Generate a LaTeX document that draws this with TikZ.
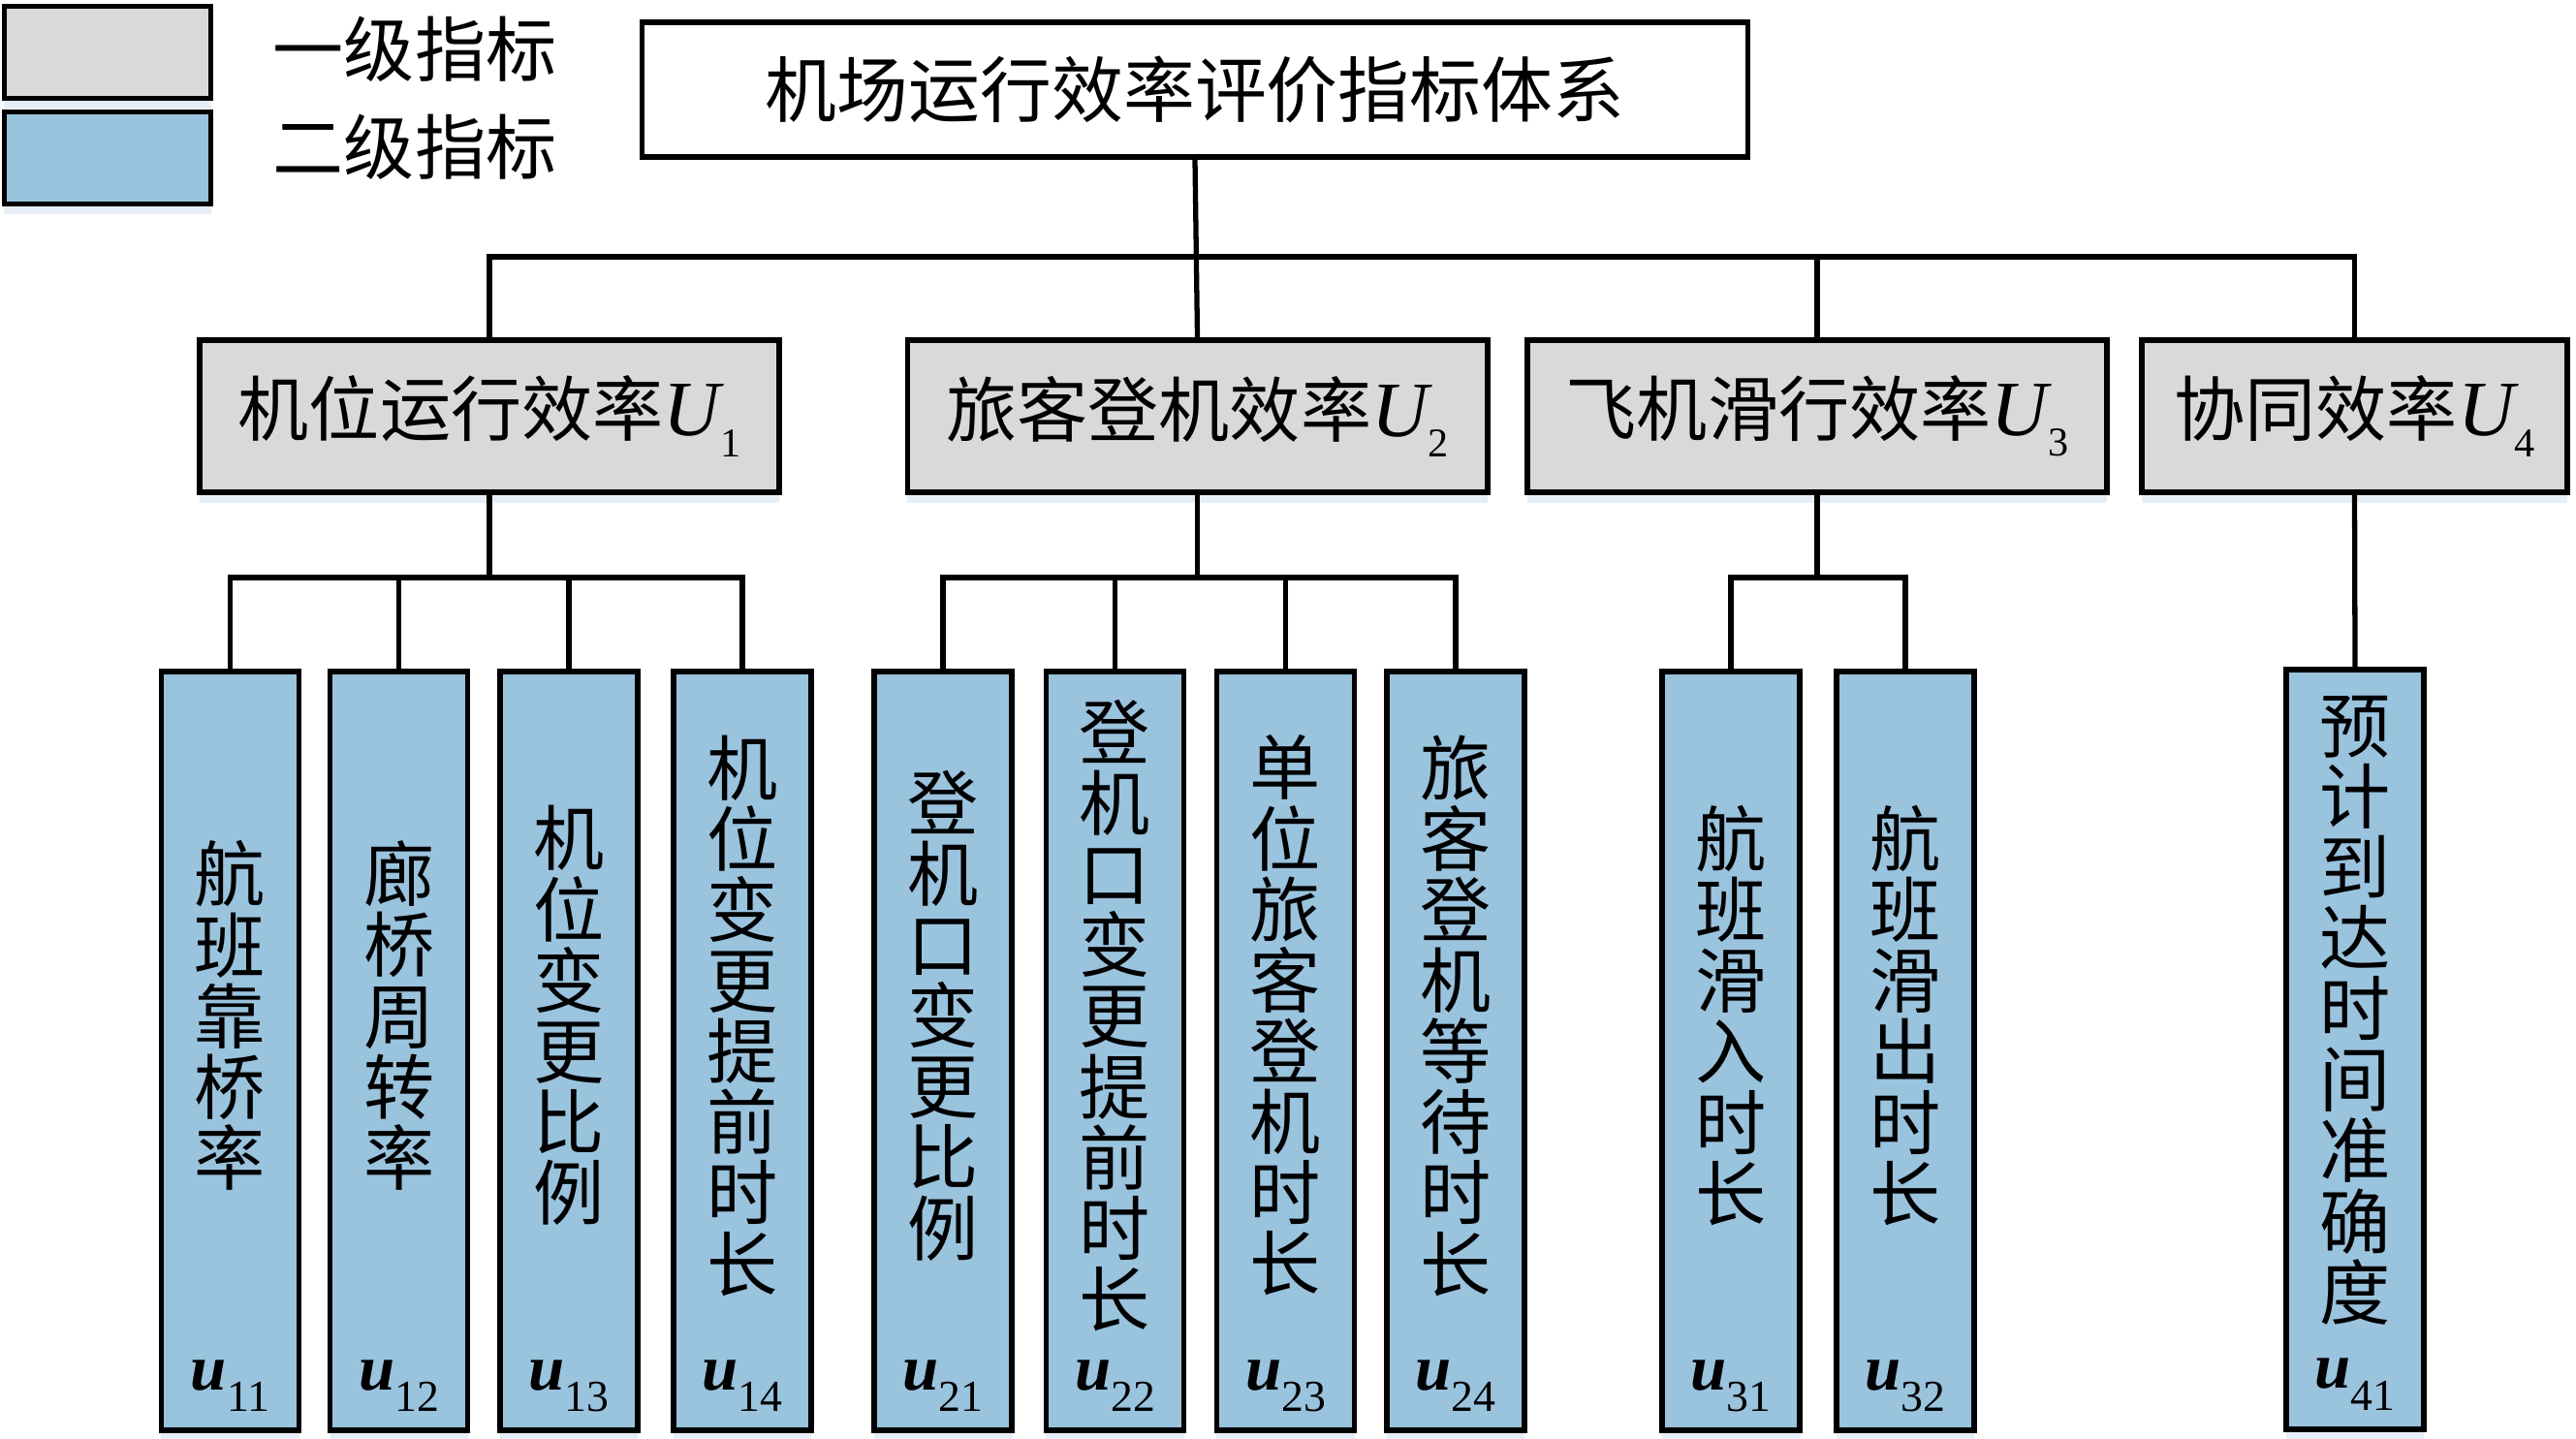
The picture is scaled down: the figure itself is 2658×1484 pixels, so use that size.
\documentclass[tikz,border=0pt]{standalone}
\usepackage{fontspec}
\setmainfont{Liberation Serif}
\newfontfamily\cjk{Noto Sans CJK SC}
\usetikzlibrary{shadows}
\definecolor{lvone}{HTML}{D9D8DB}
\definecolor{lvtwo}{HTML}{9AC3DE}
\definecolor{shadowblue}{HTML}{E6EEF8}
\newcommand{\Uidx}[1]{{\rmfamily\itshape\fontsize{23pt}{23pt}\selectfont U}\raisebox{-6pt}{\rmfamily\fontsize{12pt}{12pt}\selectfont #1}}
\newcommand{\uidx}[1]{{\rmfamily\bfseries\itshape\fontsize{19pt}{19pt}\selectfont u}\raisebox{-6.5pt}{\rmfamily\fontsize{13pt}{13pt}\selectfont #1}}
\begin{document}
\begin{tikzpicture}[
			x=0.01cm, y=-0.01cm,
			cn/.style = {font=\cjk\fontsize{20.8pt}{20.8pt}\selectfont, inner sep=0pt},
			softshadow/.style = {drop shadow={shadow xshift=0pt, shadow yshift=-3pt, fill=shadowblue, opacity=1, draw=none}},
			rootbox/.style = {cn, draw, line width=1.6pt, fill=white, minimum width=11.4cm, minimum height=1.39cm, font=\cjk\fontsize{21pt}{21pt}\selectfont},
			onebox/.style = {cn, draw, line width=1.6pt, fill=lvone, softshadow, minimum width=5.98cm, minimum height=1.57cm},
			twobox/.style = {draw, line width=1.6pt, fill=lvtwo, softshadow, minimum width=1.42cm, minimum height=7.83cm},
			keybox/.style = {draw, line width=1.6pt, softshadow, minimum width=2.13cm, minimum height=0.95cm},
			vtxt/.style = {cn, align=center, yshift=0.365cm},
			ulab/.style = {inner sep=0pt, anchor=base},
			conn/.style = {draw, line width=1.5pt},
			]
			\useasboundingbox (0,0) rectangle (2658,1484);
			% legend
			\node[keybox, fill=lvone] (key1) at (111,54) {};
			\node[keybox, fill=lvtwo] (key2) at (111,163) {};
			\node[cn, anchor=west] (keytxt1) at (281,51) {一级指标};
			\node[cn, anchor=west] (keytxt2) at (281,152) {二级指标};
			% root and first level
			\node[rootbox] (root) at (1233,92.5) {机场运行效率评价指标体系};
			\node[onebox] (U1) at (505,429.5) {机位运行效率\Uidx{1}};
			\node[onebox] (U2) at (1235.5,429.5) {旅客登机效率\Uidx{2}};
			\node[onebox] (U3) at (1875,429.5) {飞机滑行效率\Uidx{3}};
			\node[onebox, minimum width=4.39cm] (U4) at (2429.5,429.5) {协同效率\Uidx{4}};
			% second level
			\node[twobox] (u11) at (237.5,1084.5) {};
			\node[twobox] (u12) at (411.6,1084.5) {};
			\node[twobox] (u13) at (587,1084.5) {};
			\node[twobox] (u14) at (766,1084.5) {};
			\node[twobox] (u21) at (973,1084.5) {};
			\node[twobox] (u22) at (1150.5,1084.5) {};
			\node[twobox] (u23) at (1326.5,1084.5) {};
			\node[twobox] (u24) at (1502,1084.5) {};
			\node[twobox] (u31) at (1786,1084.5) {};
			\node[twobox] (u32) at (1966,1084.5) {};
			\node[twobox] (u41) at (2430,1083) {};
			\node[vtxt] (t11) at (u11) {航\\班\\靠\\桥\\率};
			\node[vtxt] (t12) at (u12) {廊\\桥\\周\\转\\率};
			\node[vtxt] (t13) at (u13) {机\\位\\变\\更\\比\\例};
			\node[vtxt] (t14) at (u14) {机\\位\\变\\更\\提\\前\\时\\长};
			\node[vtxt] (t21) at (u21) {登\\机\\口\\变\\更\\比\\例};
			\node[vtxt] (t22) at (u22) {登\\机\\口\\变\\更\\提\\前\\时\\长};
			\node[vtxt] (t23) at (u23) {单\\位\\旅\\客\\登\\机\\时\\长};
			\node[vtxt] (t24) at (u24) {旅\\客\\登\\机\\等\\待\\时\\长};
			\node[vtxt] (t31) at (u31) {航\\班\\滑\\入\\时\\长};
			\node[vtxt] (t32) at (u32) {航\\班\\滑\\出\\时\\长};
			\node[vtxt, yshift=0.04cm] (t41) at (u41) {预\\计\\到\\达\\时\\间\\准\\确\\度};
			\node[ulab] (l11) at ([yshift=0.45cm]u11.south) {\uidx{11}};
			\node[ulab] (l12) at ([yshift=0.45cm]u12.south) {\uidx{12}};
			\node[ulab] (l13) at ([yshift=0.45cm]u13.south) {\uidx{13}};
			\node[ulab] (l14) at ([yshift=0.45cm]u14.south) {\uidx{14}};
			\node[ulab] (l21) at ([yshift=0.45cm]u21.south) {\uidx{21}};
			\node[ulab] (l22) at ([yshift=0.45cm]u22.south) {\uidx{22}};
			\node[ulab] (l23) at ([yshift=0.45cm]u23.south) {\uidx{23}};
			\node[ulab] (l24) at ([yshift=0.45cm]u24.south) {\uidx{24}};
			\node[ulab] (l31) at ([yshift=0.45cm]u31.south) {\uidx{31}};
			\node[ulab] (l32) at ([yshift=0.45cm]u32.south) {\uidx{32}};
			\node[ulab] (l41) at ([yshift=0.45cm]u41.south) {\uidx{41}};
			% connectors
			\coordinate (bar) at (0,265);
			\coordinate (sub) at (0,596);
			\draw[conn] (root.south) -- (U2.north);
			\draw[conn] (U1.north) -- (U1.north |- bar) -| (U4.north);
			\draw[conn] (U3.north) -- (U3.north |- bar);
			\draw[conn] (U1.south) -- (U1.south |- sub);
			\draw[conn] (u11.north) -- (u11.north |- sub) -- (u14.north |- sub) -- (u14.north);
			\draw[conn] (u12.north) -- (u12.north |- sub);
			\draw[conn] (u13.north) -- (u13.north |- sub);
			\draw[conn] (U2.south) -- (U2.south |- sub);
			\draw[conn] (u21.north) -- (u21.north |- sub) -- (u24.north |- sub) -- (u24.north);
			\draw[conn] (u22.north) -- (u22.north |- sub);
			\draw[conn] (u23.north) -- (u23.north |- sub);
			\draw[conn] (U3.south) -- (U3.south |- sub);
			\draw[conn] (u31.north) -- (u31.north |- sub) -- (u32.north |- sub) -- (u32.north);
			\draw[conn] (U4.south) -- (u41.north);
		\end{tikzpicture}
\end{document}
